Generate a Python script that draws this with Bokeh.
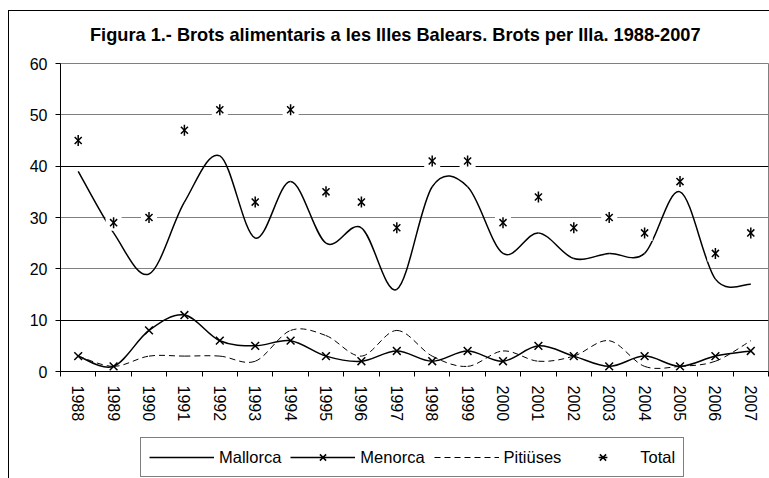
from bokeh.plotting import figure
from bokeh.layouts import column
from bokeh.models import Range1d, FixedTicker, Grid, Legend, LegendItem, ColumnDataSource, Div
from bokeh.embed import file_html
from bokeh.resources import INLINE
import math

title_text = "Figura 1.- Brots alimentaris a les Illes Balears. Brots per Illa. 1988-2007"
years = [str(y) for y in range(1988, 2008)]
mallorca = [39, 27, 19, 33, 42, 26, 37, 25, 28, 16, 36, 36, 23, 27, 22, 23, 23, 35, 18, 17]
menorca = [3, 1, 8, 11, 6, 5, 6, 3, 2, 4, 2, 4, 2, 5, 3, 1, 3, 1, 3, 4]
pitiuses = [3, 1, 3, 3, 3, 2, 8, 7, 3, 8, 3, 1, 4, 2, 3, 6, 1, 1, 2, 6]
total = [45, 29, 30, 47, 51, 33, 51, 35, 33, 28, 41, 41, 29, 34, 28, 30, 27, 37, 23, 27]
y_ticks = [0, 10, 20, 30, 40, 50, 60]

FONT = "Liberation Sans"
xc = [i + 0.5 for i in range(len(years))]


def smooth_segments(xs, ys):
    n = len(xs)
    d = dict(x0=[], y0=[], x1=[], y1=[], cx0=[], cy0=[], cx1=[], cy1=[])
    for i in range(n - 1):
        a = i - 1 if i > 0 else i
        b = i + 2 if i + 2 < n else i + 1
        d["x0"].append(xs[i]); d["y0"].append(ys[i])
        d["x1"].append(xs[i + 1]); d["y1"].append(ys[i + 1])
        d["cx0"].append(xs[i] + (xs[i + 1] - xs[a]) / 6)
        d["cy0"].append(ys[i] + (ys[i + 1] - ys[a]) / 6)
        d["cx1"].append(xs[i + 1] - (xs[b] - xs[i]) / 6)
        d["cy1"].append(ys[i + 1] - (ys[b] - ys[i]) / 6)
    return ColumnDataSource(d)


title_div = Div(
    text=('<div style="font-family:\'Liberation Sans\',Arial,sans-serif;font-size:18.2px;'
          'font-weight:bold;color:black;padding:14px 0 0 81px;white-space:nowrap;'
          'line-height:1.15;">' + title_text + '</div>'),
    width=760, height=40, margin=0)

p = figure(width=760, height=377, output_backend="svg", toolbar_location=None,
           x_range=Range1d(0, len(years)), y_range=Range1d(0, 60),
           min_border_left=51, min_border_right=1, min_border_top=12, min_border_bottom=57)

p.outline_line_color = "#808080"
p.outline_line_width = 1
p.background_fill_color = "white"
p.border_fill_color = "white"

# grids
p.xgrid.visible = False
p.ygrid.ticker = FixedTicker(ticks=[20, 30, 50])
p.ygrid.grid_line_color = "#808080"
g2 = Grid(dimension=1, ticker=FixedTicker(ticks=[10, 40]), grid_line_color="black")
p.add_layout(g2)

# axes
p.yaxis.ticker = FixedTicker(ticks=y_ticks)
p.yaxis.axis_line_color = "black"
p.yaxis.major_tick_out = 5
p.yaxis.major_tick_in = 0
p.yaxis.minor_tick_line_color = None
p.yaxis.major_label_text_font = FONT
p.yaxis.major_label_text_font_size = "16px"
p.yaxis.major_label_text_color = "black"
p.yaxis.major_label_standoff = 8

p.xaxis.ticker = FixedTicker(ticks=xc, minor_ticks=list(range(len(years) + 1)))
p.xaxis.major_label_overrides = {x: y for x, y in zip(xc, years)}
p.xaxis.major_tick_line_color = None
p.xaxis.major_tick_out = 0
p.xaxis.major_tick_in = 0
p.xaxis.minor_tick_out = 5
p.xaxis.minor_tick_in = 0
p.xaxis.minor_tick_line_color = "black"
p.xaxis.axis_line_color = "black"
p.xaxis.major_label_orientation = -math.pi / 2
p.xaxis.major_label_text_font = FONT
p.xaxis.major_label_text_font_size = "16px"
p.xaxis.major_label_text_color = "black"
p.xaxis.major_label_standoff = 9

# series
p.bezier(x0="x0", y0="y0", x1="x1", y1="y1", cx0="cx0", cy0="cy0", cx1="cx1", cy1="cy1",
         source=smooth_segments(xc, pitiuses), line_color="black", line_width=1, line_dash="6 4")
p.bezier(x0="x0", y0="y0", x1="x1", y1="y1", cx0="cx0", cy0="cy0", cx1="cx1", cy1="cy1",
         source=smooth_segments(xc, mallorca), line_color="black", line_width=1.5)
p.bezier(x0="x0", y0="y0", x1="x1", y1="y1", cx0="cx0", cy0="cy0", cx1="cx1", cy1="cy1",
         source=smooth_segments(xc, menorca), line_color="black", line_width=1.5)
p.scatter(xc, menorca, marker="x", size=11, line_color="black", line_width=1.5)

p.scatter(xc, total, marker="square", size=16, fill_color="white", line_color=None)
p.scatter(xc, total, marker="x", size=10, line_color="black", line_width=1.5)
p.scatter(xc, total, marker="dash", angle=math.pi / 2, size=11, line_color="black", line_width=1.5)

# legend figure (series drawn out of view, only used as legend sources)
lf = figure(width=760, height=50, output_backend="svg", toolbar_location=None,
            x_range=Range1d(0, 1), y_range=Range1d(-20, -10),
            x_axis_type=None, y_axis_type=None, min_border=0)
lf.outline_line_color = None
lf.xgrid.visible = False
lf.ygrid.visible = False
lf.background_fill_color = "white"
lf.border_fill_color = "white"

lm = lf.line(xc, mallorca, line_color="black", line_width=1.5)
ln = lf.line(xc, menorca, line_color="black", line_width=1.5)
lnx = lf.scatter(xc, menorca, marker="x", size=11, line_color="black", line_width=1.5)
lp = lf.line(xc, pitiuses, line_color="black", line_width=1, line_dash="6 4")
lt1 = lf.scatter(xc, total, marker="x", size=10, line_color="black", line_width=1.5)
lt2 = lf.scatter(xc, total, marker="dash", angle=math.pi / 2, size=11, line_color="black", line_width=1.5)

legend = Legend(items=[
    LegendItem(label="Mallorca", renderers=[lm]),
    LegendItem(label="Menorca", renderers=[ln, lnx]),
    LegendItem(label="Pitiüses", renderers=[lp]),
    LegendItem(label="Total", renderers=[lt1, lt2]),
], orientation="horizontal", location=(80, 1))
legend.glyph_width = 65
legend.glyph_height = 22
legend.label_standoff = 5
legend.spacing = 9
legend.padding = 8
legend.margin = 0
legend.border_line_color = "black"
legend.border_line_width = 1
legend.label_text_font = FONT
legend.label_text_font_size = "16.5px"
legend.label_text_color = "black"
legend.background_fill_color = "white"
lf.add_layout(legend, "center")

layout = column(title_div, p, lf, spacing=0)
layout.styles = {"margin-left": "8px", "margin-top": "10px",
                 "border-left": "1px solid black", "border-top": "1px solid black"}

open("out.html", "w").write(file_html(layout, INLINE))
